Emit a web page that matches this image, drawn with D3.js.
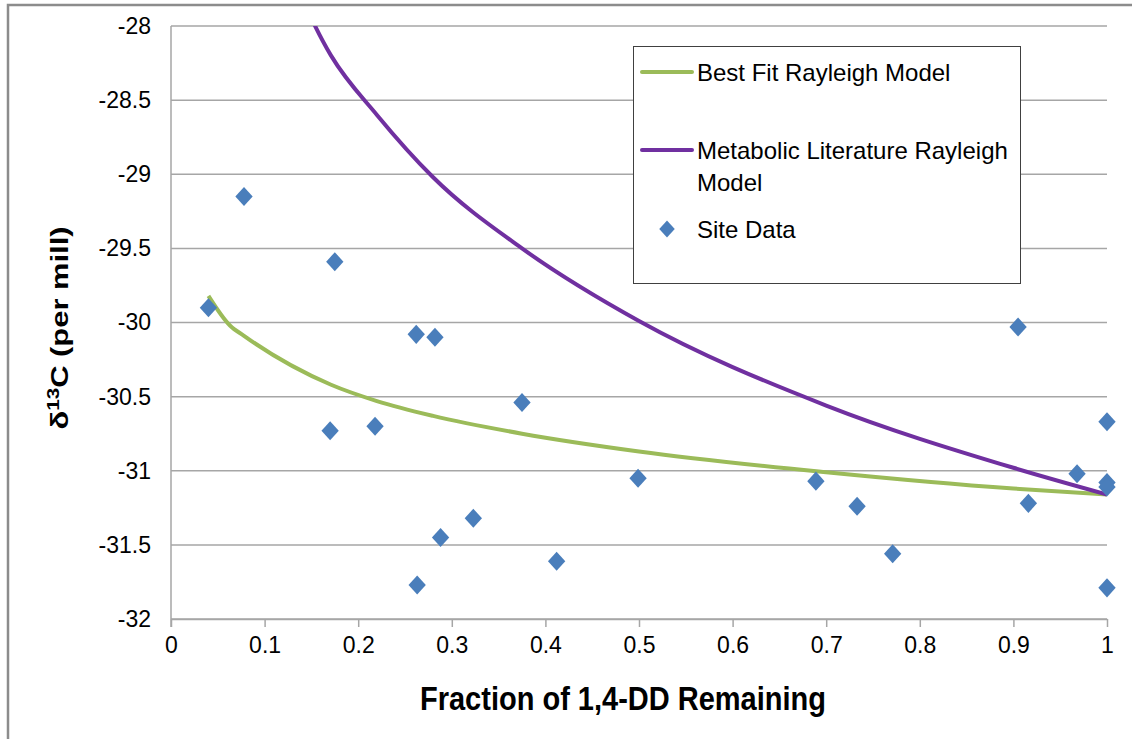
<!DOCTYPE html>
<html>
<head>
<meta charset="UTF-8">
<title>Rayleigh model</title>
<script src="https://cdnjs.cloudflare.com/ajax/libs/d3/7.8.5/d3.min.js"></script>
<style>
body { margin: 0; background: #fff; }
text { font-family: "Liberation Sans", Arial, sans-serif; fill: #000; }
</style>
</head>
<body>
<div id="chart"></div>
<script>
/*global d3*/

// site data
var siteF = [0.04, 0.078, 0.175, 0.17, 0.218, 0.262, 0.282, 0.375, 0.263, 0.288, 0.323, 0.412,
             0.499, 0.689, 0.733, 0.771, 0.905, 0.916, 0.968, 1.0, 1.0, 1.0, 1.0];
var siteD = [-29.90, -29.15, -29.59, -30.73, -30.70, -30.08, -30.10, -30.54, -31.77, -31.45, -31.32, -31.61,
             -31.05, -31.07, -31.24, -31.56, -30.03, -31.22, -31.02, -30.67, -31.08, -31.11, -31.79];

// model curves
var bestF = [0.04, 0.063, 0.078, 0.171, 0.22, 0.28, 0.375, 0.5, 0.7, 0.9, 1.0];
var bestD = [-29.82, -30.02, -30.09, -30.42, -30.53, -30.63, -30.75, -30.87, -31.01, -31.12, -31.16];
var metaF = [0.078, 0.171, 0.22, 0.28, 0.375, 0.5, 0.7, 0.9, 1.0];
var metaD = [-26.8, -28.2, -28.6, -29.02, -29.5, -29.99, -30.56, -30.98, -31.16];

var xTicks = [0, 0.1, 0.2, 0.3, 0.4, 0.5, 0.6, 0.7, 0.8, 0.9, 1];
var yTicks = [-28, -28.5, -29, -29.5, -30, -30.5, -31, -31.5, -32];

var legendItems = [
  {label: ["Best Fit Rayleigh Model"], color: "#9bbb59", type: "line"},
  {label: ["Metabolic Literature Rayleigh", "Model"], color: "#7030a0", type: "line"},
  {label: ["Site Data"], color: "#4a7ebb", type: "point"}
];

var W = 1132, H = 739;
var pl = 171, pr = 1107, pt = 26, pb = 619;

var svg = d3.select("#chart").append("svg")
  .attr("width", W).attr("height", H);

// outer chart frame (only top and left edges visible)
svg.append("path")
  .attr("d", "M8," + (H + 5) + "V5H" + (W + 5))
  .attr("fill", "none")
  .attr("stroke", "#8c8c8c")
  .attr("stroke-width", 2.5);

var x = d3.scaleLinear().domain([0, 1]).range([pl, pr]);
var y = d3.scaleLinear().domain([-32, -28]).range([pb, pt]);

svg.append("defs").append("clipPath").attr("id", "plot")
  .append("rect")
  .attr("x", pl).attr("y", pt)
  .attr("width", pr - pl).attr("height", pb - pt);

// gridlines
svg.append("g").selectAll("line")
  .data(yTicks)
  .enter().append("line")
  .attr("x1", pl).attr("x2", pr)
  .attr("y1", function(d) { return y(d); })
  .attr("y2", function(d) { return y(d); })
  .attr("stroke", "#a6a6a6")
  .attr("stroke-width", 1.5);

// plain hyphen minus, like the original
var fmt = function(d) { return String(d); };

// x axis
var xAxis = svg.append("g")
  .attr("transform", "translate(0," + pb + ")")
  .call(d3.axisBottom(x).tickValues(xTicks).tickSize(8).tickSizeOuter(0).tickFormat(fmt));
xAxis.select(".domain").attr("stroke", "#a6a6a6").attr("stroke-width", 1.5);
xAxis.selectAll(".tick line").attr("stroke", "#a6a6a6").attr("stroke-width", 1.5);
xAxis.selectAll(".tick text")
  .attr("y", 18)
  .attr("font-size", 23)
  .attr("font-family", "Liberation Sans, Arial, sans-serif")
  .attr("fill", "#000");

// y axis
var yAxis = svg.append("g")
  .attr("transform", "translate(" + pl + ",0)")
  .call(d3.axisLeft(y).tickValues(yTicks).tickSize(0).tickSizeOuter(0).tickFormat(fmt));
yAxis.select(".domain").attr("stroke", "#a6a6a6").attr("stroke-width", 1.5)
  .attr("d", "M0," + pt + "V" + (pb + 8));
yAxis.selectAll(".tick text")
  .attr("x", -20)
  .attr("font-size", 23)
  .attr("font-family", "Liberation Sans, Arial, sans-serif")
  .attr("fill", "#000");

// model lines
var line = d3.line()
  .x(function(d) { return x(d[0]); })
  .y(function(d) { return y(d[1]); })
  .curve(d3.curveMonotoneX);

var plot = svg.append("g").attr("clip-path", "url(#plot)");

plot.append("path")
  .datum(d3.zip(bestF, bestD))
  .attr("d", line)
  .attr("fill", "none")
  .attr("stroke", "#9bbb59")
  .attr("stroke-width", 4)
  .attr("stroke-linejoin", "round");

plot.append("path")
  .datum(d3.zip(metaF, metaD))
  .attr("d", line)
  .attr("fill", "none")
  .attr("stroke", "#7030a0")
  .attr("stroke-width", 4)
  .attr("stroke-linejoin", "round");

// site data diamonds
var diamond = d3.symbol().type(d3.symbolSquare).size(150);
svg.append("g").selectAll("path")
  .data(d3.zip(siteF, siteD))
  .enter().append("path")
  .attr("d", diamond)
  .attr("transform", function(d) {
    return "translate(" + x(d[0]) + "," + y(d[1]) + ") scale(1,1.1) rotate(45)";
  })
  .attr("fill", "#4a7ebb");

// legend
var lg = svg.append("g");
lg.append("rect")
  .attr("x", 633.5).attr("y", 46.5)
  .attr("width", 387).attr("height", 237)
  .attr("fill", "#fff")
  .attr("stroke", "#404040")
  .attr("stroke-width", 1);

var rowY = [72, 150, 229];
legendItems.forEach(function(item, i) {
  var g = lg.append("g").attr("transform", "translate(0," + rowY[i] + ")");
  if (item.type === "line") {
    g.append("line")
      .attr("x1", 642).attr("x2", 692)
      .attr("stroke", item.color)
      .attr("stroke-width", 4)
      .attr("stroke-linecap", "round");
  } else {
    g.append("path")
      .attr("d", d3.symbol().type(d3.symbolSquare).size(120))
      .attr("transform", "translate(667,0) scale(1,1.1) rotate(45)")
      .attr("fill", item.color);
  }
  item.label.forEach(function(t, j) {
    g.append("text")
      .attr("x", 697)
      .attr("y", 9 + j * 32)
      .attr("font-size", 24)
      .text(t);
  });
});

// axis titles
svg.append("text")
  .attr("x", 623).attr("y", 710)
  .attr("text-anchor", "middle")
  .attr("font-size", 33)
  .attr("font-weight", "bold")
  .attr("textLength", 406)
  .attr("lengthAdjust", "spacingAndGlyphs")
  .text("Fraction of 1,4-DD Remaining");

var yt = svg.append("text")
  .attr("transform", "translate(68,328) rotate(-90)")
  .attr("text-anchor", "middle")
  .attr("font-size", 24)
  .attr("font-weight", "bold")
  .attr("textLength", 203)
  .attr("lengthAdjust", "spacingAndGlyphs");
yt.append("tspan").text("δ");
yt.append("tspan").attr("font-size", 16).attr("dy", -9).text("13");
yt.append("tspan").attr("dy", 9).text("C (per mill)");
</script>
</body>
</html>
